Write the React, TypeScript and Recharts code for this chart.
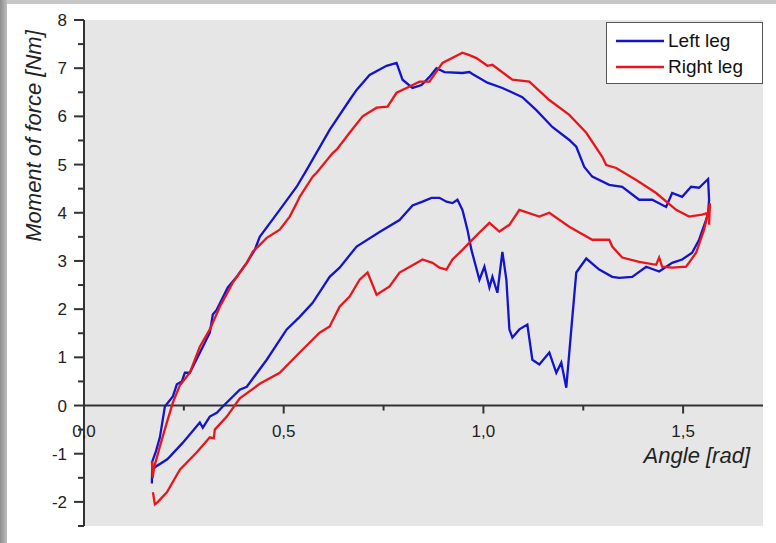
import { LineChart, Line, XAxis, YAxis, CartesianGrid, ReferenceLine, Legend, Label } from "recharts";

const leftAngle = [
  0.17, 0.171, 0.18, 0.19, 0.2025, 0.2225, 0.2325, 0.245, 0.2525, 0.265, 0.2775, 0.2975, 0.315, 0.3225,
  0.3325, 0.345, 0.36, 0.3825, 0.39, 0.4075, 0.4275, 0.44, 0.49, 0.5325, 0.5575, 0.615, 0.665, 0.6825,
  0.715, 0.7575, 0.7825, 0.7975, 0.8225, 0.845, 0.865, 0.8825, 0.9025, 0.9475, 0.965, 0.9725, 1.01,
  1.0475, 1.0975, 1.1325, 1.1725, 1.215, 1.2325, 1.2525, 1.2725, 1.315, 1.3475, 1.39, 1.4225, 1.4575,
  1.4725, 1.4975, 1.52, 1.54, 1.5625, 1.565, 1.5625, 1.5575, 1.54, 1.5225, 1.4975, 1.4725, 1.44, 1.4075,
  1.3725, 1.34, 1.3225, 1.29, 1.2575, 1.2325, 1.22, 1.2075, 1.195, 1.1825, 1.165, 1.14, 1.1225, 1.11,
  1.09, 1.0725, 1.065, 1.0575, 1.0475, 1.035, 1.0225, 1.015, 1.0025, 0.99, 0.97, 0.96, 0.9475, 0.935,
  0.9225, 0.9075, 0.89, 0.87, 0.8475, 0.8225, 0.79, 0.74, 0.6825, 0.64, 0.615, 0.5725, 0.54, 0.5075,
  0.4575, 0.4075, 0.39, 0.3475, 0.3325, 0.315, 0.2975, 0.29, 0.2475, 0.215, 0.2075, 0.1775, 0.172,
];
const leftMoment = [
  -1.62, -1.16, -0.95, -0.66, -0.02, 0.19, 0.44, 0.5, 0.68, 0.68, 0.89, 1.22, 1.51, 1.89,
  1.99, 2.2, 2.45, 2.67, 2.76, 2.96, 3.23, 3.5, 4.06, 4.54, 4.89, 5.72, 6.34, 6.55,
  6.86, 7.05, 7.11, 6.76, 6.59, 6.65, 6.82, 7.0, 6.92, 6.9, 6.92, 6.88, 6.7,
  6.59, 6.4, 6.13, 5.78, 5.51, 5.37, 4.95, 4.75, 4.58, 4.54, 4.27, 4.27, 4.12,
  4.41, 4.33, 4.54, 4.52, 4.7, 4.27, 4.0, 3.85, 3.44, 3.17, 3.03, 2.96, 2.78, 2.88,
  2.67, 2.65, 2.67, 2.82, 3.05, 2.76, 1.58, 0.37, 0.89, 0.68, 1.1, 0.85, 0.95, 1.68,
  1.58, 1.41, 1.58, 2.61, 3.19, 2.34, 2.67, 2.45, 2.88, 2.61, 3.23, 3.65, 4.06, 4.27,
  4.2, 4.23, 4.31, 4.31, 4.23, 4.15, 3.85, 3.6, 3.3, 2.86, 2.67, 2.13, 1.84, 1.58,
  0.95, 0.39, 0.33, -0.02, -0.15, -0.23, -0.46, -0.35, -0.77, -1.06, -1.12, -1.28, -1.35,
];

const rightAngle = [
  0.17, 0.172, 0.175, 0.19, 0.2075, 0.2225, 0.24, 0.265, 0.29, 0.315, 0.34, 0.3725, 0.4075, 0.4225,
  0.4575, 0.49, 0.515, 0.5325, 0.54, 0.5725, 0.5825, 0.6225, 0.6325, 0.665, 0.6975, 0.7325, 0.76,
  0.7825, 0.8075, 0.84, 0.865, 0.8975, 0.9475, 0.965, 0.9825, 1.01, 1.0225, 1.0725, 1.115, 1.165,
  1.215, 1.2575, 1.2975, 1.3075, 1.3325, 1.3825, 1.4325, 1.4825, 1.515, 1.5475, 1.5625, 1.567, 1.565,
  1.567, 1.5525, 1.5325, 1.5075, 1.4725, 1.4475, 1.44, 1.4325, 1.39, 1.3475, 1.3225, 1.315, 1.2725,
  1.215, 1.165, 1.14, 1.09, 1.065, 1.04, 1.015, 0.99, 0.965, 0.9475, 0.9225, 0.9075, 0.89, 0.8725,
  0.8475, 0.8325, 0.79, 0.765, 0.7325, 0.71, 0.69, 0.665, 0.64, 0.615, 0.59, 0.54, 0.49, 0.44, 0.39,
  0.3575, 0.3275, 0.325, 0.315, 0.2825, 0.24, 0.2075, 0.185, 0.1775, 0.1725,
];
const rightMoment = [
  -1.15, -1.5, -1.3, -0.85, -0.35, 0.06, 0.42, 0.68, 1.22, 1.58, 2.05, 2.55, 2.96, 3.19,
  3.48, 3.65, 3.92, 4.2, 4.33, 4.75, 4.83, 5.24, 5.31, 5.66, 6.0, 6.18, 6.2,
  6.49, 6.59, 6.72, 6.72, 7.11, 7.32, 7.27, 7.21, 7.05, 7.07, 6.76, 6.72, 6.34,
  6.03, 5.66, 5.16, 4.99, 4.93, 4.68, 4.41, 4.06, 3.92, 3.96, 4.0, 4.2, 3.75,
  4.15, 3.65, 3.17, 2.88, 2.86, 2.88, 3.07, 2.92, 2.98, 3.07, 3.3, 3.44, 3.44,
  3.71, 4.0, 3.92, 4.06, 3.75, 3.61, 3.79, 3.59, 3.38, 3.23, 3.03, 2.82, 2.86, 2.96,
  3.03, 2.96, 2.76, 2.47, 2.3, 2.76, 2.61, 2.26, 2.05, 1.64, 1.51, 1.1, 0.68, 0.45, 0.15,
  -0.23, -0.5, -0.68, -0.66, -0.97, -1.33, -1.8, -2.0, -2.05, -1.8,
];

const xTicks = [0, 0.25, 0.5, 0.75, 1, 1.25, 1.5];
const yTicks = [-2.5, -2, -1.5, -1, -0.5, 0, 0.5, 1, 1.5, 2, 2.5, 3, 3.5, 4, 4.5, 5, 5.5, 6, 6.5, 7, 7.5, 8];

const leftLeg = leftAngle.map((a, i) => ({ angle: a, moment: leftMoment[i] }));
const rightLeg = rightAngle.map((a, i) => ({ angle: a, moment: rightMoment[i] }));

const W = 776;
const H = 543;
const MARGIN = { top: 20, right: 13, bottom: 0, left: 24 };
const Y_AXIS_W = 60;
const X_AXIS_H = 17;
const Y_MIN = -2.5;
const Y_MAX = 8;
const PLOT_H = H - MARGIN.top - MARGIN.bottom - X_AXIS_H;
// x axis sits on y = 0, not at the bottom of the plot
const ZERO_SHIFT = (PLOT_H * (0 - Y_MIN)) / (Y_MAX - Y_MIN);

const FONT = '"Liberation Sans", Arial, sans-serif';
const AXIS = "#333";

const comma = (v: number) => v.toFixed(1).replace(".", ",");

const XTick = (props: any) => {
  const { x, y, payload } = props;
  const v = payload.value;
  const major = Math.abs(v * 2 - Math.round(v * 2)) < 1e-6;
  const y0 = y - ZERO_SHIFT;
  return (
    <g>
      <line x1={x} x2={x} y1={y0} y2={y0 + (major ? 8 : 5)} stroke={AXIS} strokeWidth={2} />
      {major && (
        <text x={x} y={y0 + 31} textAnchor="middle" fontFamily={FONT} fontSize={17} fill="#222">
          {comma(v)}
        </text>
      )}
    </g>
  );
};

const YTick = (props: any) => {
  const { x, y, payload } = props;
  const v = payload.value;
  const major = Number.isInteger(v);
  return (
    <g>
      <line x1={x - (major ? 10 : 6)} x2={x} y1={y} y2={y} stroke={AXIS} strokeWidth={2} />
      {major && (
        <text x={x - 17} y={y + 6} textAnchor="end" fontFamily={FONT} fontSize={17} fill="#222">
          {v}
        </text>
      )}
    </g>
  );
};

const LegendBox = (props: any) => {
  const { payload } = props;
  return (
    <div
      style={{
        border: "1px solid #555",
        background: "#fff",
        padding: "5px 8px 3px 9px",
        fontFamily: FONT,
        fontSize: 19,
        color: "#111",
        boxSizing: "border-box",
        width: 157,
      }}
    >
      {(payload || []).map((item: any) => (
        <div key={item.value} style={{ display: "flex", alignItems: "center", height: 26 }}>
          <svg width={48} height={4} style={{ marginRight: 4 }}>
            <line x1={0} x2={48} y1={2} y2={2} stroke={item.color} strokeWidth={2.5} />
          </svg>
          <span>{item.value}</span>
        </div>
      ))}
    </div>
  );
};

export default function App() {
  return (
    <div style={{ position: "absolute", left: 0, top: 0, width: W, height: H, background: "#fff", overflow: "hidden" }}>
      <div style={{ position: "absolute", left: 0, top: 0, width: W, height: 4, background: "#c6c6c6" }} />
      <div
        style={{
          position: "absolute",
          left: 0,
          top: 0,
          width: 7,
          height: H,
          background: "linear-gradient(to right, #8e8e8e, #bdbdbd)",
        }}
      />
      <LineChart width={W} height={H} margin={MARGIN}>
        <CartesianGrid fill="#e6e6e6" stroke="none" horizontal={false} vertical={false} />
        <XAxis
          type="number"
          dataKey="angle"
          domain={[0, 1.7]}
          ticks={xTicks}
          interval={0}
          allowDataOverflow
          height={X_AXIS_H}
          axisLine={false}
          tickLine={false}
          tickSize={0}
          tickMargin={0}
          tick={<XTick />}
        >
          <Label
            content={() => (
              <text x={750} y={463} textAnchor="end" fontFamily={FONT} fontSize={22} fontStyle="italic" fill="#222">
                Angle [rad]
              </text>
            )}
          />
        </XAxis>
        <YAxis
          type="number"
          domain={[Y_MIN, Y_MAX]}
          ticks={yTicks}
          interval={0}
          allowDataOverflow
          width={Y_AXIS_W}
          axisLine={{ stroke: AXIS, strokeWidth: 2 }}
          tickLine={false}
          tickSize={0}
          tickMargin={0}
          tick={<YTick />}
        >
          <Label
            content={() => (
              <text
                x={41}
                y={136}
                transform="rotate(-90, 41, 136)"
                textAnchor="middle"
                fontFamily={FONT}
                fontSize={22}
                fontStyle="italic"
                fill="#222"
              >
                Moment of force [Nm]
              </text>
            )}
          />
        </YAxis>
        <ReferenceLine y={0} stroke={AXIS} strokeWidth={2} />
        <Line
          data={leftLeg}
          dataKey="moment"
          name="Left leg"
          type="linear"
          stroke="#1414cc"
          strokeWidth={2.3}
          dot={false}
          isAnimationActive={false}
        />
        <Line
          data={rightLeg}
          dataKey="moment"
          name="Right leg"
          type="linear"
          stroke="#e8161c"
          strokeWidth={2.3}
          dot={false}
          isAnimationActive={false}
        />
        <Legend
          layout="horizontal"
          verticalAlign="middle"
          align="center"
          content={<LegendBox />}
          wrapperStyle={{ top: 22, left: 606, width: 157 }}
        />
      </LineChart>
    </div>
  );
}
